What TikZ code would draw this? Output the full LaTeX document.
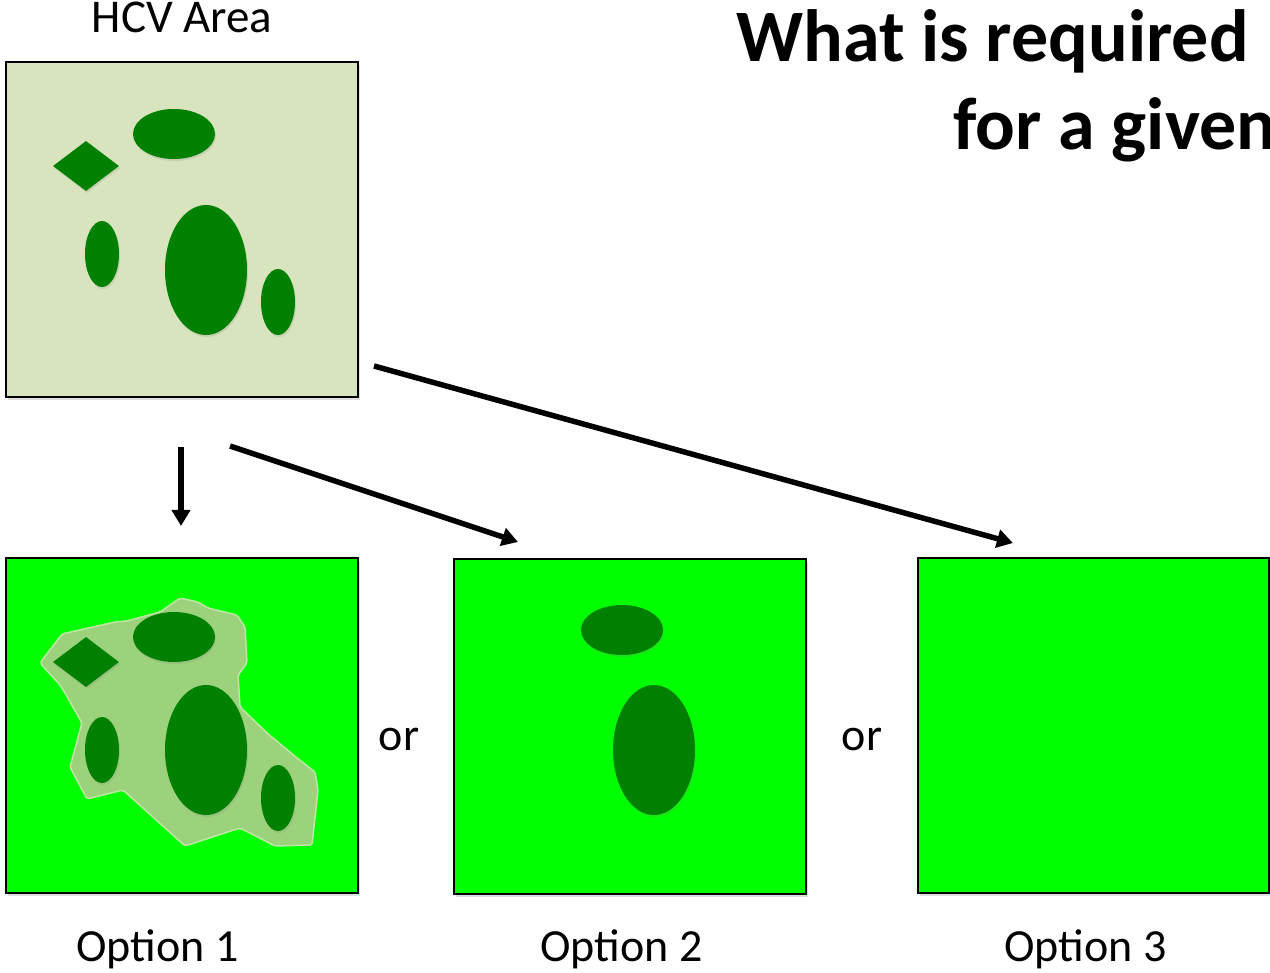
\documentclass[tikz,border=0pt]{standalone}
\usepackage{fontspec}
\setmainfont{Carlito}
\usepackage{tikz}
\usetikzlibrary{arrows.meta,shapes.geometric,shadows}

\definecolor{hcvbg}{RGB}{215,228,189}
\definecolor{brightgreen}{RGB}{0,255,0}
\definecolor{patchgreen}{RGB}{0,128,0}
\definecolor{zonegreen}{RGB}{155,210,123}
\definecolor{zoneedge}{RGB}{190,230,165}

\begin{document}
\begin{tikzpicture}[x=1pt,y=-1pt,
    areabox/.style={draw=black,line width=2pt,minimum width=352pt,minimum height=335pt,inner sep=0pt,
      drop shadow={opacity=0.25,shadow xshift=2pt,shadow yshift=-3pt}},
    patch/.style={fill=patchgreen,inner sep=0pt,
      drop shadow={opacity=0.2,shadow xshift=1pt,shadow yshift=-2pt}},
    wideblob/.style={patch,ellipse,minimum width=82pt,minimum height=50pt},
    thinblob/.style={patch,ellipse,minimum width=34pt,minimum height=66pt},
    bigblob/.style={patch,ellipse,minimum width=82pt,minimum height=130pt},
    rhomb/.style={patch,diamond,minimum width=66pt,minimum height=50pt},
    bigarrow/.style={line width=5.5pt,-{Triangle[length=16pt,width=18pt]}},
    caption/.style={anchor=base,font=\fontsize{46}{52}\selectfont}
  ]
  \clip (0,0) rectangle (1270,973);

  % title
  \node[anchor=base west,font=\bfseries\fontsize{74}{88}\selectfont] (title1) at (733,62) {What is required};
  \node[anchor=base west,font=\bfseries\fontsize{74}{88}\selectfont] (title2) at (950,150) {for a given};

  % HCV area
  \node[caption,font=\fontsize{47}{52}\selectfont] (hcvlabel) at (182,33) {HCV Area};
  \node[areabox,fill=hcvbg] (hcv) at (182,229.5) {};
  \node[rhomb] (hcvdiam) at (86,166) {};
  \node[wideblob] (hcvtop) at (174,134) {};
  \node[thinblob] (hcvleft) at (102,254) {};
  \node[bigblob] (hcvbig) at (206,270) {};
  \node[thinblob] (hcvright) at (278,302) {};

  % option 1
  \node[areabox,fill=brightgreen] (opt1) at (182,725.5) {};
  \draw[draw=zoneedge,line width=1.5pt,fill=zonegreen,rounded corners=2pt]
    (40,663) -- (62,634) -- (115,622) -- (127,621) -- (160,612) -- (180,598) -- (198,602)
    -- (208,608) -- (220,611) -- (237,615) -- (245,627) -- (247,663) -- (238,675) -- (240,707)
    -- (267,733) -- (297,758) -- (315,772) -- (318,790) -- (312,845) -- (275,846) -- (240,828)
    -- (185,846) -- (123,790) -- (87,799) -- (70,767) -- (82,723) -- (65,693) -- (60,685) -- cycle;
  \node[rhomb] (o1diam) at (86,662) {};
  \node[wideblob] (o1top) at (174,637) {};
  \node[thinblob] (o1left) at (102,750) {};
  \node[bigblob] (o1big) at (206,750) {};
  \node[thinblob] (o1right) at (278,798) {};

  % option 2
  \node[areabox,fill=brightgreen] (opt2) at (630,726) {};
  \node[wideblob] (o2top) at (622,630) {};
  \node[bigblob] (o2big) at (654,750) {};

  % option 3
  \node[areabox,fill=brightgreen,minimum width=351pt] (opt3) at (1093.5,725.5) {};

  % arrows
  \coordinate (dn0) at (181,447);
  \coordinate (dn1) at (181,526);
  \coordinate (mid0) at (230,446);
  \coordinate (mid1) at (518,542);
  \coordinate (far0) at (374,366);
  \coordinate (far1) at (1013,543);
  \draw[bigarrow] (dn0) -- (dn1);
  \draw[bigarrow] (mid0) -- (mid1);
  \draw[bigarrow] (far0) -- (far1);

  % labels
  \node[caption] (or1) at (399,750) {or};
  \node[caption] (or2) at (862,750) {or};
  \node[caption] (lab1) at (157.5,961) {Option 1};
  \node[caption] (lab2) at (621.5,961) {Option 2};
  \node[caption] (lab3) at (1085.5,961) {Option 3};
\end{tikzpicture}
\end{document}
